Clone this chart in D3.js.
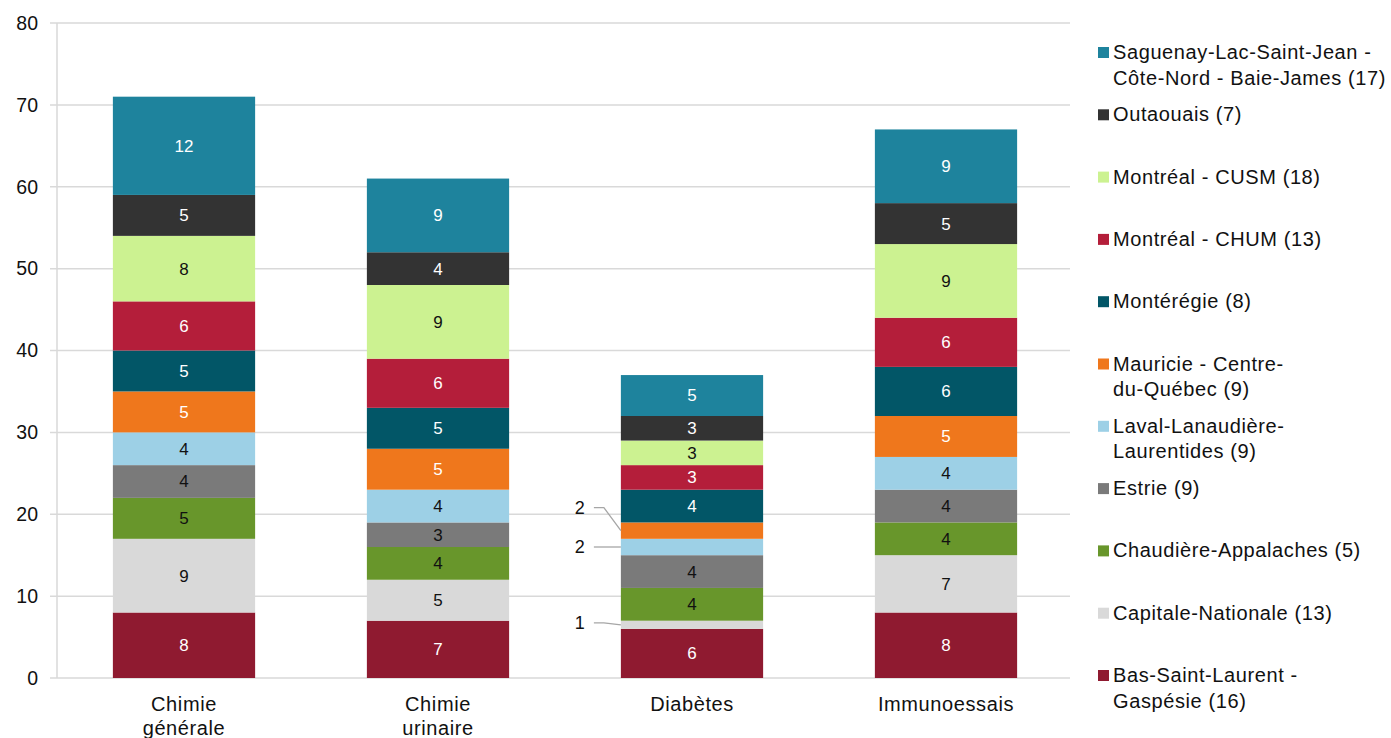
<!DOCTYPE html>
<html><head><meta charset="utf-8">
<script src="https://cdn.jsdelivr.net/npm/d3@7"></script>
<style>body{margin:0;background:#fff}svg{display:block}text{font-family:"Liberation Sans",Arial,sans-serif}</style>
</head><body>
<svg id="c" width="1391" height="738"></svg>
<script>
const categories = [["Chimie","générale"],["Chimie","urinaire"],["Diabètes"],["Immunoessais"]];
const catKeys = ["Chimie générale","Chimie urinaire","Diabètes","Immunoessais"];
// series bottom to top
const seriesNames = [
  ["Bas-Saint-Laurent -","Gaspésie (16)"],
  ["Capitale-Nationale (13)"],
  ["Chaudière-Appalaches (5)"],
  ["Estrie (9)"],
  ["Laval-Lanaudière-","Laurentides (9)"],
  ["Mauricie - Centre-","du-Québec (9)"],
  ["Montérégie (8)"],
  ["Montréal - CHUM (13)"],
  ["Montréal - CUSM (18)"],
  ["Outaouais (7)"],
  ["Saguenay-Lac-Saint-Jean -","Côte-Nord - Baie-James (17)"]
];
const basSaintLaurent   = [8,7,6,8];
const capitaleNationale = [9,5,1,7];
const chaudiere         = [5,4,4,4];
const estrie            = [4,3,4,4];
const laval             = [4,4,2,4];
const mauricie          = [5,5,2,5];
const monteregie        = [5,5,4,6];
const chum              = [6,6,3,6];
const cusm              = [8,9,3,9];
const outaouais         = [5,4,3,5];
const saguenay          = [12,9,5,9];
const seriesValues = [basSaintLaurent,capitaleNationale,chaudiere,estrie,laval,mauricie,monteregie,chum,cusm,outaouais,saguenay];
const colors = ["#8f1a30","#d9d9d9","#68962b","#7a7a7a","#9dd0e6","#ef771c","#025667","#b41e3a","#ccf291","#333333","#1e839d"];
const labelColors = ["#fff","#111","#111","#111","#111","#fff","#fff","#fff","#111","#fff","#fff"];
const yTicks = [0,10,20,30,40,50,60,70,80];

const svg = d3.select("#c");
const x = d3.scaleBand().domain(catKeys).range([57,1073]).paddingInner(0.44).paddingOuter(0.22);
const y = d3.scaleLinear().domain([0,80]).range([678,23]);

// grid
svg.append("g").selectAll("line").data(yTicks).join("line")
  .attr("x1",50).attr("x2",1070).attr("y1",d=>y(d)).attr("y2",d=>y(d))
  .attr("stroke","#d9d9d9").attr("stroke-width",1.5);
svg.append("line").attr("x1",57).attr("x2",57).attr("y1",y(80)).attr("y2",y(0))
  .attr("stroke","#d9d9d9").attr("stroke-width",1.5);
svg.append("g").selectAll("text").data(yTicks).join("text")
  .attr("x",38).attr("y",d=>y(d)).attr("dy","0.35em").attr("text-anchor","end")
  .attr("font-size",19.5).attr("fill","#111").text(d=>d);

// stacks
const table = catKeys.map((k,i)=>{const o={cat:k}; seriesValues.forEach((s,j)=>o["s"+j]=s[i]); return o;});
const stack = d3.stack().keys(seriesValues.map((s,j)=>"s"+j))(table);
const bw = x.bandwidth();
stack.forEach((layer,j)=>{
  const g = svg.append("g");
  g.selectAll("rect").data(layer).join("rect")
    .attr("x",d=>x(d.data.cat)).attr("width",bw)
    .attr("y",d=>y(d[1])).attr("height",d=>y(d[0])-y(d[1]))
    .attr("fill",colors[j]);
  layer.forEach(d=>{
    const v = d[1]-d[0];
    const cx = x(d.data.cat)+bw/2, cy = y((d[0]+d[1])/2);
    if (v>=3) {
      svg.append("text").attr("x",cx).attr("y",cy).attr("dy","0.35em").attr("text-anchor","middle")
        .attr("font-size",17).attr("fill",labelColors[j]).text(v);
    } else {
      // callout to the left
      const bx = x(d.data.cat);
      const ly = v===2 && j===5 ? cy-23 : (j===1 ? cy-2 : cy);
      svg.append("path").attr("d",`M${bx-27},${ly}L${bx-17},${ly}L${bx},${cy}`)
        .attr("fill","none").attr("stroke","#a6a6a6").attr("stroke-width",1.3);
      svg.append("text").attr("x",bx-36).attr("y",ly).attr("dy","0.35em").attr("text-anchor","end")
        .attr("font-size",18).attr("fill","#111").text(v);
    }
  });
});

// x labels
catKeys.forEach((k,i)=>{
  const t = svg.append("text").attr("x",x(k)+bw/2).attr("y",711).attr("text-anchor","middle")
    .attr("font-size",20).attr("letter-spacing",0.6).attr("fill","#111");
  categories[i].forEach((ln,li)=>t.append("tspan").attr("x",x(k)+bw/2).attr("dy",li?24:0).text(ln));
});

// legend (top to bottom = reverse series order)
const legendOrder = d3.range(seriesNames.length).reverse();
legendOrder.forEach((j,idx)=>{
  const ly = 52 + idx*62.3;
  svg.append("rect").attr("x",1098).attr("y",ly-5).attr("width",11).attr("height",11).attr("fill",colors[j]);
  const t = svg.append("text").attr("x",1113).attr("y",ly)
    .attr("font-size",20).attr("letter-spacing",0.6).attr("fill","#111");
  seriesNames[j].forEach((ln,li)=>t.append("tspan").attr("x",1113).attr("dy",li?25.5:"0.35em").text(ln));
});
</script>
</body></html>
